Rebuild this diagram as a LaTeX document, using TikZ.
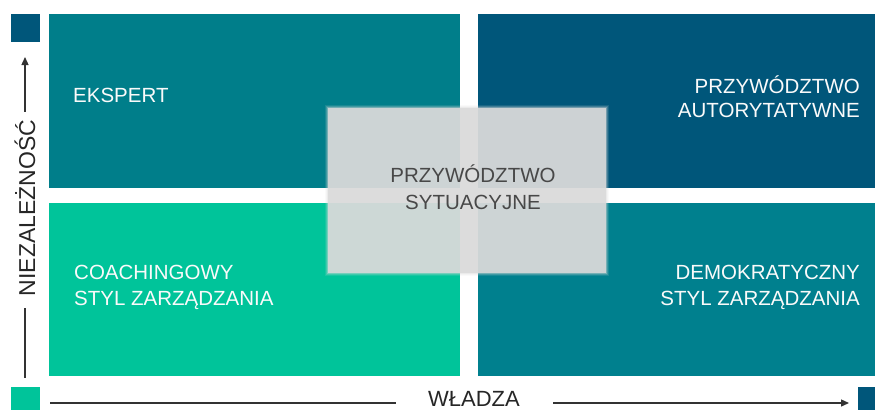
\documentclass[tikz,border=0pt]{standalone}
\usepackage{fontspec}
\setmainfont{Liberation Sans}
\usetikzlibrary{arrows.meta}

\definecolor{deepblue}{RGB}{0,86,122}
\definecolor{tealq}{RGB}{0,126,138}
\definecolor{tealr}{RGB}{0,128,142}
\definecolor{mint}{RGB}{0,196,154}
\definecolor{boxgrey}{RGB}{218,218,218}
\definecolor{inkgrey}{RGB}{72,72,72}

\tikzset{
  quad/.style={anchor=north west, inner sep=0pt, outer sep=0pt},
  marker/.style={anchor=north west, inner sep=0pt, outer sep=0pt},
  label/.style={inner sep=0pt, font=\fontsize{20.5}{26}\selectfont, text=white!96!gray},
  axislabel/.style={inner sep=0pt, font=\fontsize{23}{27}\selectfont, text=black!85},
  axisline/.style={line width=1.3pt, black!80},
}

\begin{document}
\begin{tikzpicture}[x=1pt, y=-1pt]
\useasboundingbox (0,0) rectangle (875,410);

% four quadrants
\node[quad, fill=tealq, minimum width=411pt, minimum height=174pt] (tl) at (49,14) {};
\node[quad, fill=deepblue, minimum width=397pt, minimum height=174pt] (tr) at (478,14) {};
\node[quad, fill=mint, minimum width=411pt, minimum height=173pt] (bl) at (49,203) {};
\node[quad, fill=tealr, minimum width=397pt, minimum height=173pt] (br) at (478,203) {};

% corner markers
\node[marker, fill=deepblue, minimum width=29pt, minimum height=28pt] (mtop) at (11,14) {};
\node[marker, fill=mint, minimum width=29pt, minimum height=23pt] (mleft) at (11,387) {};
\node[marker, fill=deepblue, minimum width=17pt, minimum height=23pt] (mright) at (858,387) {};

% quadrant labels (anchor "base" sits on the last line)
\node[label, anchor=base west, align=left] (ekspert) at (73,102) {EKSPERT};
\node[label, anchor=base east, align=right, font=\fontsize{20.5}{24}\selectfont] (autor) at (860,117) {PRZYWÓDZTWO\\AUTORYTATYWNE};
\node[label, anchor=base west, align=left] (coach) at (74,305) {COACHINGOWY\\STYL ZARZĄDZANIA};
\node[label, anchor=base east, align=right] (demo) at (860,305) {DEMOKRATYCZNY\\STYL ZARZĄDZANIA};

% translucent central panel with soft edges
\foreach \d/\o in {3/0.12,2/0.2,1/0.35}{
  \fill[boxgrey, opacity=\o] (328-\d,108-\d) rectangle (606+\d,273+\d);
}
\node[quad, fill=boxgrey, fill opacity=0.88, minimum width=278pt, minimum height=165pt] (center) at (328,108) {};

\node[inner sep=0pt, font=\fontsize{20.5}{27}\selectfont, text=inkgrey, align=center, anchor=base] (sit) at (473,209) {PRZYWÓDZTWO\\SYTUACYJNE};

% vertical axis
\node[axislabel, rotate=90] (niez) at (25,208) {NIEZALEŻNOŚĆ};
\coordinate (vtop) at (25,57);
\coordinate (vbot) at (25,378);
\draw[axisline, -{Triangle[length=8pt,width=7pt]}] (niez.east) ++(0,-8) -- (vtop);
\draw[axisline] (niez.west) ++(0,12) -- (vbot);

% horizontal axis
\node[axislabel, anchor=base, font=\fontsize{22}{26}\selectfont] (wladza) at (474,406) {WŁADZA};
\coordinate (hleft) at (50,403);
\coordinate (hright) at (849,403);
\draw[axisline] (hleft) -- (396,403);
\draw[axisline, -{Triangle[length=8pt,width=7pt]}] (553,403) -- (hright);
\end{tikzpicture}
\end{document}
